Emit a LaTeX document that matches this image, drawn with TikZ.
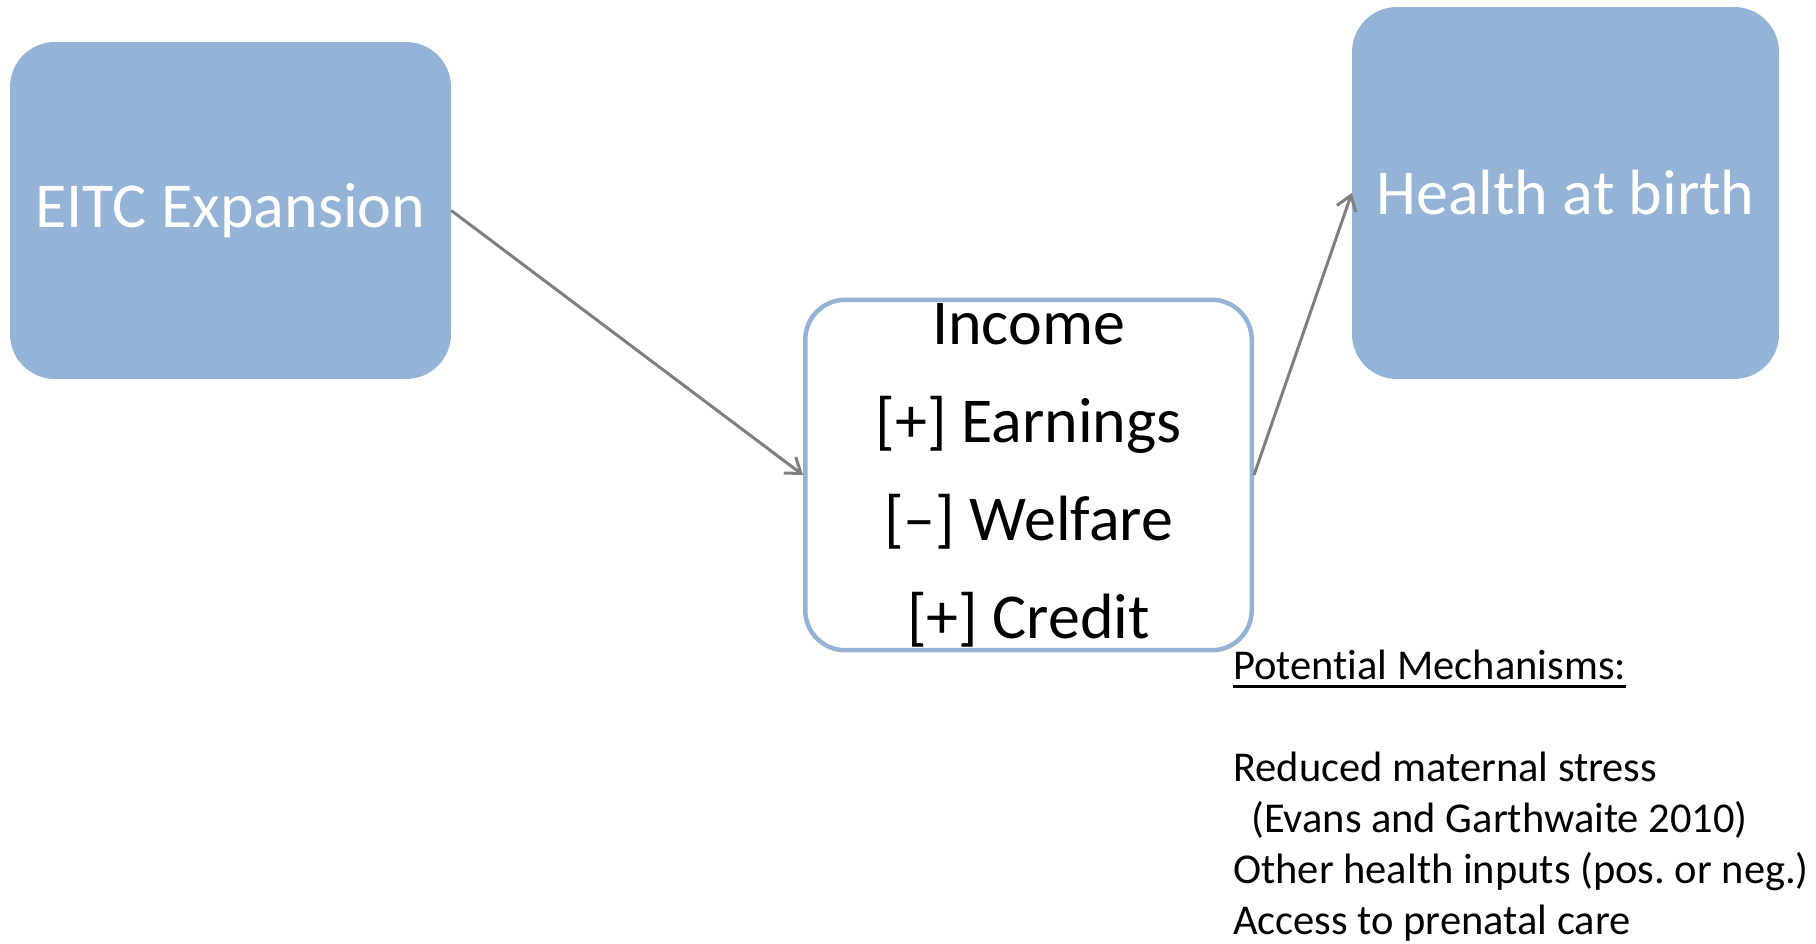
\documentclass[tikz,border=0pt]{standalone}
\usepackage{fontspec}
\setmainfont[Ligatures={TeX,CommonOff}]{Carlito}
\usetikzlibrary{arrows.meta}
\definecolor{boxblue}{HTML}{95B3D7}
\definecolor{arrowgray}{HTML}{7F7F7F}
\newsavebox\headbox
\newcommand{\ulhead}[1]{\sbox\headbox{#1}\rlap{\rule[-8pt]{\wd\headbox}{2.5pt}}\usebox\headbox}
\frenchspacing
\tikzset{
  bluebox/.style={rectangle, rounded corners=45pt, fill=boxblue, text=white,
    font=\fontsize{64}{77}\selectfont},
  incomebox/.style={rectangle, rounded corners=40pt, draw=boxblue, line width=4.5pt,
    fill=white, align=center, font=\fontsize{64}{98}\selectfont,
    minimum width=446.5pt, minimum height=345.5pt},
  mechtext/.style={align=left, inner sep=0pt, font=\fontsize{42.5}{51}\selectfont},
  link/.style={draw=arrowgray, line width=3pt, -{Straight Barb[length=14pt,width=20pt]}}
}
\begin{document}
\begin{tikzpicture}[x=1pt, y=-1pt]
      \useasboundingbox (0,0) rectangle (1816,943);
      \draw
        (230.5,210.5) node[bluebox, minimum width=441pt, minimum height=337pt] (eitc){EITC Expansion}
        (1028.5,475) node[incomebox] (income){Income\\{[+]} Earnings\\{[--]} Welfare\\{[+]} Credit}
        (1565.5,193) node[bluebox, minimum width=427pt, minimum height=372pt] (health){Health at birth};
      \node[mechtext, anchor=north west] (mech) at (1233,650)
        {\ulhead{Potential Mechanisms:}\\[51pt]
         Reduced maternal stress\\
         \hspace*{18pt}(Evans and Garthwaite 2010)\\
         Other health inputs (pos. or neg.)\\
         Access to prenatal care};
      \begin{scope}[link]
        \draw (eitc.east) to (income.west);
        \draw (income.east) to (health.west);
      \end{scope}
    \end{tikzpicture}
\end{document}
